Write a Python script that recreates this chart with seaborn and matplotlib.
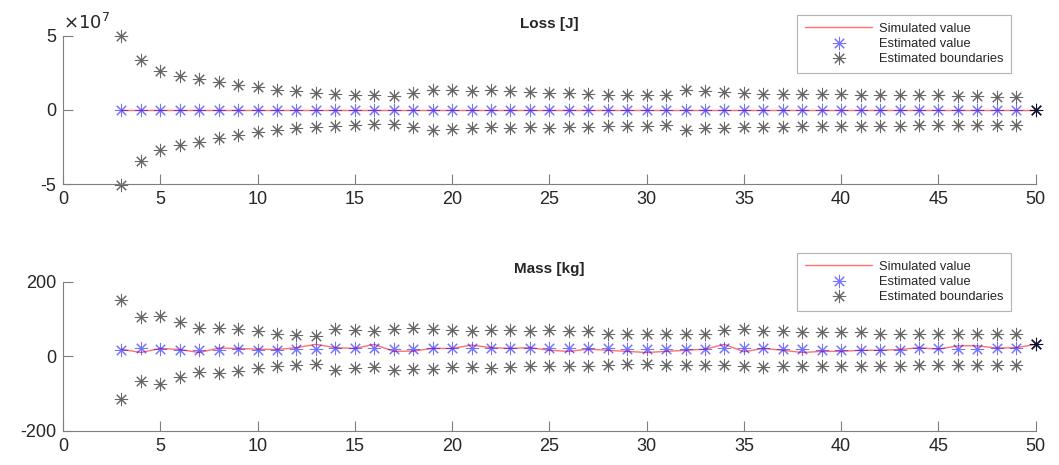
import numpy as np
import matplotlib.pyplot as plt
import matplotlib.ticker as mticker
from matplotlib.lines import Line2D
import seaborn as sns

# ---------------- data ----------------
steps = list(range(3, 51))

# Loss [J] (units of 1e7 for the boundaries)
loss_sim = [0.0] * 48
loss_est = [0.0] * 48
loss_upper = [5.0, 3.41, 2.66, 2.32, 2.09, 1.86, 1.66, 1.52, 1.36, 1.25,
              1.16, 1.09, 1.02, 1.00, 0.93, 1.14, 1.36, 1.32, 1.27, 1.34,
              1.30, 1.23, 1.16, 1.14, 1.09, 1.02, 1.02, 0.98, 0.98, 1.32,
              1.25, 1.20, 1.14, 1.09, 1.09, 1.07, 1.07, 1.07, 1.02, 1.00,
              0.98, 0.98, 0.98, 0.95, 0.93, 0.91, 0.86, 0.0]
loss_lower = [-5.07, -3.43, -2.73, -2.39, -2.16, -1.86, -1.70, -1.50, -1.36, -1.25,
              -1.14, -1.07, -1.00, -0.95, -0.95, -1.14, -1.34, -1.27, -1.23, -1.18,
              -1.23, -1.18, -1.20, -1.18, -1.14, -1.09, -1.07, -1.07, -1.02, -1.32,
              -1.25, -1.20, -1.16, -1.14, -1.14, -1.11, -1.09, -1.09, -1.07, -1.05,
              -1.05, -1.02, -1.02, -1.00, -1.00, -0.98, -0.98, 0.0]

# Mass [kg]
mass_sim = [19, 10, 21, 18, 10, 22, 21, 19, 18, 23,
            32, 23, 21, 32, 13, 14, 21, 21, 30, 23,
            21, 23, 16, 13, 19, 16, 13, 10, 13, 16,
            19, 32, 12, 21, 16, 10, 13, 13, 16, 16,
            18, 23, 19, 28, 28, 22, 23, 32]
mass_est = [16, 21, 19, 18, 16, 16, 19, 18, 18, 19,
            19, 21, 21, 23, 19, 19, 21, 21, 23, 21,
            21, 23, 21, 21, 21, 21, 19, 19, 19, 19,
            19, 23, 21, 21, 19, 19, 16, 16, 16, 16,
            18, 21, 21, 19, 19, 21, 21, 32]
mass_upper = [150, 106, 107, 91, 77, 75, 74, 68, 61, 57,
              55, 72, 70, 67, 74, 75, 73, 70, 68, 71,
              70, 68, 70, 68, 68, 61, 59, 59, 59, 59,
              59, 70, 72, 68, 68, 65, 65, 65, 64, 61,
              61, 61, 59, 61, 61, 61, 61, 32]
mass_lower = [-115, -67, -74, -56, -42, -44, -39, -31, -26, -23,
              -22, -36, -32, -29, -36, -33, -33, -29, -29, -31,
              -29, -27, -26, -26, -26, -24, -22, -22, -24, -24,
              -24, -24, -27, -30, -27, -27, -26, -26, -26, -26,
              -26, -24, -24, -24, -24, -24, -24, 32]

# ---------------- style ----------------
sns.set_theme(style="white")
plt.rcParams['font.family'] = ['Liberation Sans', 'DejaVu Sans']
plt.rcParams['axes.unicode_minus'] = False

axis_gray = '#7f7f7f'
star = (8, 2, 0)
red = '#ff7070'
blue_kw = dict(marker=star, linestyle='', color='blue', markeredgecolor='blue', alpha=0.55,
               markersize=9.5, markeredgewidth=0.75, clip_on=False)
black_kw = dict(marker=star, linestyle='', color='black', markeredgecolor='black', alpha=0.6,
                markersize=9.5, markeredgewidth=0.75, clip_on=False)

fig = plt.figure(figsize=(10.59, 4.65), dpi=100)
ax1 = fig.add_axes([0.0595, 0.6043, 0.9185, 0.3183])
ax2 = fig.add_axes([0.0595, 0.0738, 0.9185, 0.3202])


def draw(ax, sim, est, upper, lower, scale, title, ylim, yticks, ylabels):
    sns.lineplot(x=steps, y=np.array(sim) * scale, ax=ax, color=red, linewidth=1.0)
    sns.lineplot(x=steps, y=np.array(est) * scale, ax=ax, **blue_kw)
    sns.lineplot(x=steps, y=np.array(upper) * scale, ax=ax, **black_kw)
    sns.lineplot(x=steps, y=np.array(lower) * scale, ax=ax, **black_kw)

    ax.set_xlim(0, 50)
    ax.set_ylim(*ylim)
    ax.xaxis.set_major_locator(mticker.MultipleLocator(5))
    ax.set_yticks(yticks)
    ax.set_yticklabels(ylabels)
    ax.set_title(title, fontsize=11, fontweight='bold', pad=6)
    ax.tick_params(axis='both', direction='in', length=7, width=0.8, colors=axis_gray,
                   labelcolor='#262626', labelsize=13, bottom=True, left=True, pad=5)
    for side in ['top', 'right']:
        ax.spines[side].set_visible(False)
    for side in ['left', 'bottom']:
        ax.spines[side].set_color(axis_gray)
        ax.spines[side].set_linewidth(0.8)
    ax.set_xlabel('')
    ax.set_ylabel('')


draw(ax1, loss_sim, loss_est, loss_upper, loss_lower, 1e7, 'Loss [J]',
     (-5e7, 5e7), [-5e7, 0, 5e7], ['-5', '0', '5'])
ax1.text(0.0, 1.02, r'$\times10^{7}$', transform=ax1.transAxes, fontsize=13,
         color='#262626', ha='left', va='bottom')

draw(ax2, mass_sim, mass_est, mass_upper, mass_lower, 1, 'Mass [kg]',
     (-200, 200), [-200, 0, 200], ['-200', '0', '200'])

handles = [Line2D([], [], color=red, linewidth=1.0),
           Line2D([], [], **blue_kw),
           Line2D([], [], **black_kw)]
labels = ['Simulated value', 'Estimated value', 'Estimated boundaries']
for ax, anchor in [(ax1, (0.9547, 0.9677)), (ax2, (0.9547, 0.456))]:
    leg = ax.legend(handles, labels, loc='upper right', bbox_to_anchor=anchor,
                    bbox_transform=fig.transFigure, fontsize=9.3, frameon=True,
                    fancybox=False, handlelength=5.2, handletextpad=0.5,
                    labelspacing=0.25, borderpad=0.6, borderaxespad=0)
    leg.get_frame().set_edgecolor('#a0a0a0')
    leg.get_frame().set_linewidth(0.8)
    for t in leg.get_texts():
        t.set_color('#262626')

fig.savefig('out.png', dpi=100)
